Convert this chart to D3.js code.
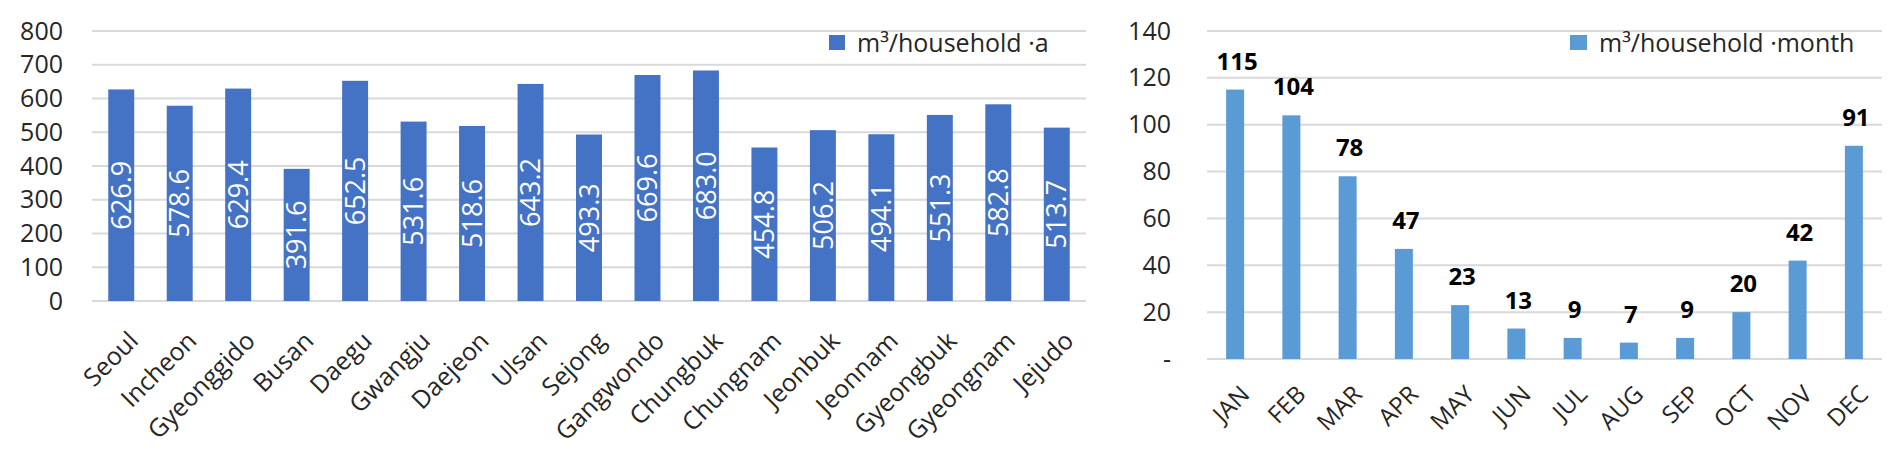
<!DOCTYPE html>
<html><head><meta charset="utf-8">
<script src="https://cdn.jsdelivr.net/npm/d3@7"></script>
<style>body{margin:0;background:#fff}svg{display:block}text{font-family:"Open Sans",sans-serif}</style>
</head><body><svg id="c" width="1888" height="459"></svg>
<script>
const regions = ["Seoul","Incheon","Gyeonggido","Busan","Daegu","Gwangju","Daejeon","Ulsan","Sejong","Gangwondo","Chungbuk","Chungnam","Jeonbuk","Jeonnam","Gyeongbuk","Gyeongnam","Jejudo"];
const annualValues = [626.9,578.6,629.4,391.6,652.5,531.6,518.6,643.2,493.3,669.6,683.0,454.8,506.2,494.1,551.3,582.8,513.7];
const annualTicks = [0,100,200,300,400,500,600,700,800];
const annualLegend = "m³/household ·a";
const months = ["JAN","FEB","MAR","APR","MAY","JUN","JUL","AUG","SEP","OCT","NOV","DEC"];
const monthlyValues = [115,104,78,47,23,13,9,7,9,20,42,91];
const monthlyTicks = [0,20,40,60,80,100,120,140];
const monthlyLegend = "m³/household ·month";

const svg = d3.select("#c");
const grid = "#d9d9d9", textCol = "#262626";

// Left chart
{
  const x = d3.scaleBand().domain(regions).range([92,1086]).paddingInner(0.556).paddingOuter(0.278);
  const y = d3.scaleLinear().domain([0,800]).range([301,31]);
  const g = svg.append("g");
  g.selectAll("line.g").data(annualTicks).join("line")
    .attr("x1",92).attr("x2",1086).attr("y1",d=>y(d)).attr("y2",d=>y(d))
    .attr("stroke",grid).attr("stroke-width",2);
  const ya = g.append("g").attr("transform","translate(92,0)")
    .call(d3.axisLeft(y).tickValues(annualTicks).tickSize(0).tickPadding(29));
  ya.select(".domain").remove();
  ya.selectAll("text").attr("font-size",25).attr("fill",textCol).attr("font-family","Open Sans");
  g.selectAll("rect").data(annualValues).join("rect")
    .attr("x",(d,i)=>x(regions[i])).attr("width",x.bandwidth())
    .attr("y",d=>y(d)).attr("height",d=>y(0)-y(d)).attr("fill","#4472C4");
  g.selectAll("text.v").data(annualValues).join("text").attr("class","v")
    .attr("transform",(d,i)=>`translate(${x(regions[i])+x.bandwidth()/2},${(y(d)+y(0))/2}) rotate(-90)`)
    .attr("text-anchor","middle").attr("dy","0.36em")
    .attr("fill","#fff").attr("font-size",27).text(d=>d.toFixed(1));
  const xa = g.append("g").attr("transform","translate(0,301)")
    .call(d3.axisBottom(x).tickSize(0));
  xa.select(".domain").remove();
  xa.selectAll("text").attr("font-size",25).attr("fill",textCol).attr("font-family","Open Sans")
    .attr("text-anchor","end").attr("y",0)
    .attr("transform","translate(6,29) rotate(-45)").attr("dy","0.7em");
  g.append("rect").attr("x",829).attr("y",35).attr("width",16).attr("height",15).attr("fill","#4472C4");
  g.append("text").attr("x",857).attr("y",52).attr("font-size",25).attr("fill",textCol).text(annualLegend);
}

// Right chart
{
  const x = d3.scaleBand().domain(months).range([1207,1882]).paddingInner(0.68).paddingOuter(0.34);
  const y = d3.scaleLinear().domain([0,140]).range([359,31]);
  const g = svg.append("g");
  g.selectAll("line.g").data(monthlyTicks).join("line")
    .attr("x1",1207).attr("x2",1882).attr("y1",d=>y(d)).attr("y2",d=>y(d))
    .attr("stroke",grid).attr("stroke-width",2);
  const ya = g.append("g").attr("transform","translate(1207,0)")
    .call(d3.axisLeft(y).tickValues(monthlyTicks).tickSize(0).tickPadding(36).tickFormat(d=>d===0?"-":d));
  ya.select(".domain").remove();
  ya.selectAll("text").attr("font-size",25).attr("fill",textCol).attr("font-family","Open Sans");
  g.selectAll("rect").data(monthlyValues).join("rect")
    .attr("x",(d,i)=>x(months[i])).attr("width",x.bandwidth())
    .attr("y",d=>y(d)).attr("height",d=>y(0)-y(d)).attr("fill","#5B9BD5");
  g.selectAll("text.v").data(monthlyValues).join("text").attr("class","v")
    .attr("x",(d,i)=>x(months[i])+x.bandwidth()/2+2).attr("y",d=>y(d)-20)
    .attr("text-anchor","middle").attr("font-weight","bold")
    .attr("fill","#000").attr("font-size",24).text(d=>d);
  const xa = g.append("g").attr("transform","translate(0,359)")
    .call(d3.axisBottom(x).tickSize(0));
  xa.select(".domain").remove();
  xa.selectAll("text").attr("font-size",24).attr("fill",textCol).attr("font-family","Open Sans")
    .attr("text-anchor","end").attr("y",0)
    .attr("transform","translate(4,25) rotate(-45)").attr("dy","0.7em");
  g.append("rect").attr("x",1570).attr("y",35).attr("width",17).attr("height",15).attr("fill","#5B9BD5");
  g.append("text").attr("x",1599).attr("y",52).attr("font-size",25).attr("fill",textCol).text(monthlyLegend);
}
</script></body></html>
